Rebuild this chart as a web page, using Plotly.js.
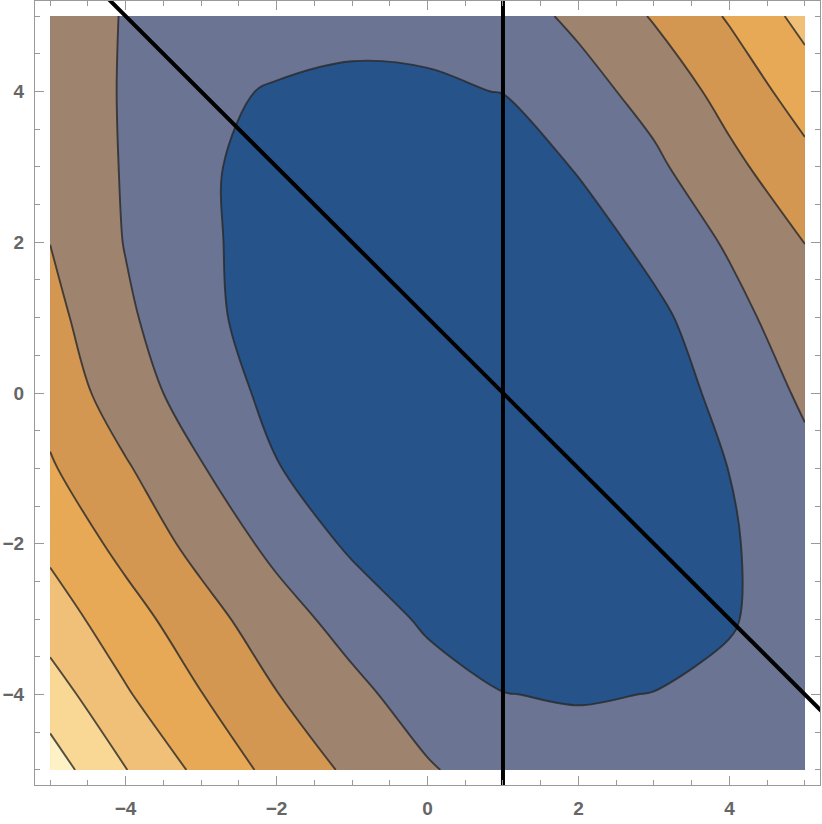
<!DOCTYPE html>
<html>
<head>
<meta charset="utf-8">
<script src="https://cdn.plot.ly/plotly-3.0.1.min.js"></script>
<style>
  html, body { margin: 0; padding: 0; background: #fff; }
  #chart { width: 822px; height: 824px; }
</style>
</head>
<body>
<div id="chart"></div>
<script>
// grid of the contour field
var gridX = [-5, -4, -3, -2, -1, 0, 1, 2, 3, 4, 5];
var gridY = [-5, -4, -3, -2, -1, 0, 1, 2, 3, 4, 5];

// one row per y value (bottom to top)
var rowYm5 = [7.48, 6.03, 4.75, 3.69, 2.81, 2.10, 1.51, 1.42, 1.36, 1.38, 1.48];
var rowYm4 = [6.49, 5.10, 4.03, 3.03, 2.27, 1.50, 1.02, 0.93, 1.02, 1.20, 1.45];
var rowYm3 = [5.50, 4.42, 3.38, 2.42, 1.61, 0.83, 0.50, 0.35, 0.55, 0.93, 1.45];
var rowYm2 = [4.77, 3.68, 2.67, 1.73, 0.83, 0.45, 0.20, 0.15, 0.45, 0.91, 1.50];
var rowYm1 = [4.10, 3.10, 2.06, 1.04, 0.50, 0.25, 0.10, 0.15, 0.50, 1.01, 1.75];
var rowY0  = [3.65, 2.46, 1.54, 0.73, 0.35, 0.10, 0.05, 0.15, 0.50, 1.29, 2.16];
var rowY1  = [3.30, 2.15, 1.29, 0.48, 0.30, 0.12, 0.12, 0.35, 0.76, 1.66, 2.58];
var rowY2  = [2.99, 1.96, 1.22, 0.48, 0.33, 0.24, 0.28, 0.51, 1.30, 2.12, 3.01];
var rowY3  = [2.79, 1.92, 1.21, 0.49, 0.40, 0.33, 0.38, 1.08, 1.81, 2.75, 3.69];
var rowY4  = [2.67, 1.91, 1.05, 0.98, 0.96, 0.90, 1.02, 1.64, 2.35, 3.36, 4.47];
var rowY5  = [2.68, 1.93, 1.41, 1.12, 1.06, 1.22, 1.57, 2.20, 3.08, 4.10, 5.33];

// band colours, lowest level first
var bandColors = ['#25538a', '#6b7492', '#9e836f', '#d39752', '#e8a957', '#f1c078', '#f9d896', '#fff1c6'];

// the two straight lines
var diagX = [-4.4, 5.4];
var diagY = [5.4, -4.4];
var vertX = [1, 1];
var vertY = [-5.4, 5.4];

var zField = [rowYm5, rowYm4, rowYm3, rowYm2, rowYm1, rowY0, rowY1, rowY2, rowY3, rowY4, rowY5];

var scale = bandColors.map(function(c, i) {
    return [i / (bandColors.length - 1), c];
});

var contour = {
    type: 'contour',
    x: gridX,
    y: gridY,
    z: zField,
    colorscale: scale,
    showscale: false,
    contours: {start: 1, end: 7, size: 1, coloring: 'fill'},
    line: {color: 'rgba(40,40,40,0.8)', width: 1.9, smoothing: 1},
    hoverinfo: 'skip'
};

var diag = {
    x: diagX, y: diagY,
    mode: 'lines',
    line: {color: '#000', width: 4},
    hoverinfo: 'skip'
};

var vert = {
    x: vertX, y: vertY,
    mode: 'lines',
    line: {color: '#000', width: 4},
    hoverinfo: 'skip'
};

var tickFont = {family: 'Liberation Sans, Arial, sans-serif', size: 19, color: '#666', weight: 'bold'};

function axis() {
    return {
        range: [-5.2, 5.2],
        tickmode: 'linear',
        tick0: 0,
        dtick: 2,
        ticks: 'inside',
        ticklen: 9,
        tickwidth: 1,
        tickcolor: '#999',
        showline: true,
        linecolor: '#999',
        linewidth: 1,
        mirror: 'ticks',
        showgrid: false,
        zeroline: false,
        tickfont: tickFont,
        ticklabelstandoff: 6,
        minor: {dtick: 0.5, tick0: 0, ticks: 'inside', ticklen: 5, tickcolor: '#999', showgrid: false}
    };
}

var layout = {
    width: 822,
    height: 824,
    margin: {l: 35, r: 2, t: 1, b: 39},
    paper_bgcolor: '#fff',
    plot_bgcolor: '#fff',
    showlegend: false,
    xaxis: axis(),
    yaxis: axis()
};

Plotly.newPlot('chart', [contour, diag, vert], layout, {staticPlot: true});
</script>
</body>
</html>
